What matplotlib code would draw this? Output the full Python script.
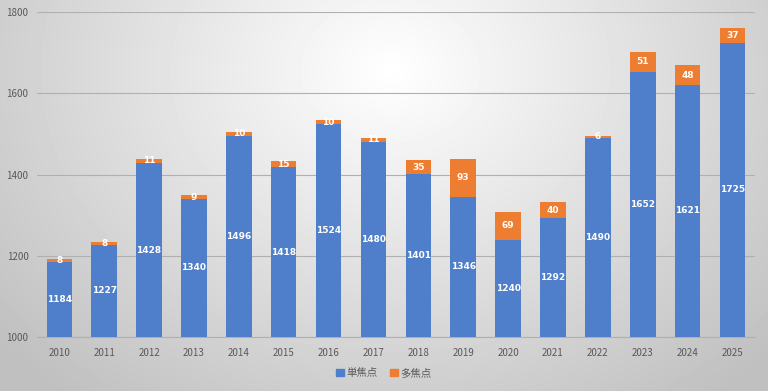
import numpy as np
import matplotlib
matplotlib.use("Agg")
import matplotlib.pyplot as plt

plt.rcParams['font.family'] = ['Noto Sans CJK JP', 'DejaVu Sans']

years = ['2010', '2011', '2012', '2013', '2014', '2015', '2016', '2017',
         '2018', '2019', '2020', '2021', '2022', '2023', '2024', '2025']
single = [1184, 1227, 1428, 1340, 1496, 1418, 1524, 1480,
          1401, 1346, 1240, 1292, 1490, 1652, 1621, 1725]
multi = [8, 8, 11, 9, 10, 15, 10, 11, 35, 93, 69, 40, 6, 51, 48, 37]

blue = '#4f7ecb'
orange = '#ed7d31'

fig = plt.figure(figsize=(7.68, 3.91), dpi=100)

# radial gradient background
bg = fig.add_axes([0, 0, 1, 1], zorder=-10)
yy, xx = np.mgrid[0:391, 0:768]
r = np.sqrt(((xx - 390) / 520.0) ** 2 + ((yy - 70) / 420.0) ** 2)
shade = 1.0 - 0.25 * np.clip(r, 0, 1)
bg.imshow(shade, cmap='gray', vmin=0, vmax=1, aspect='auto', extent=[0, 1, 0, 1])
bg.axis('off')

ax = fig.add_axes([0.048, 0.138, 0.935, 0.831])
ax.set_facecolor('none')
x = np.arange(len(years))
w = 0.57
ax.bar(x, np.array(single) - 1000, bottom=1000, width=w, color=blue, zorder=3)
ax.bar(x, multi, bottom=single, width=w, color=orange, zorder=3)

for i in range(len(years)):
    ax.text(x[i], (1000 + single[i]) / 2, str(single[i]), ha='center', va='center',
            color='white', fontsize=6.5, fontweight='bold', zorder=4, family='DejaVu Sans')
    ax.text(x[i], single[i] + multi[i] / 2, str(multi[i]), ha='center', va='center',
            color='white', fontsize=6.5, fontweight='bold', zorder=4, family='DejaVu Sans')

ax.set_xlim(-0.5, len(years) - 0.5)
ax.set_ylim(1000, 1800)
ax.set_yticks([1000, 1200, 1400, 1600, 1800])
ax.set_xticks(x)
ax.set_xticklabels(years)
ax.grid(axis='y', color='#b0b0b0', linewidth=0.8, zorder=0)
for s in ['top', 'right', 'left']:
    ax.spines[s].set_visible(False)
ax.spines['bottom'].set_color('#b0b0b0')
ax.tick_params(length=0, labelsize=7, colors='#595959', pad=8)
ax.tick_params(axis='y', pad=6)

handles = [plt.Rectangle((0, 0), 1, 1, color=blue), plt.Rectangle((0, 0), 1, 1, color=orange)]
fig.legend(handles, ['単焦点', '多焦点'], loc='center', bbox_to_anchor=(0.5, 0.045), ncol=2,
           frameon=False, fontsize=7.5, handlelength=0.7, handleheight=0.7,
           handletextpad=0.3, columnspacing=1.2, labelcolor='#595959')

fig.savefig('out.png', dpi=100)
